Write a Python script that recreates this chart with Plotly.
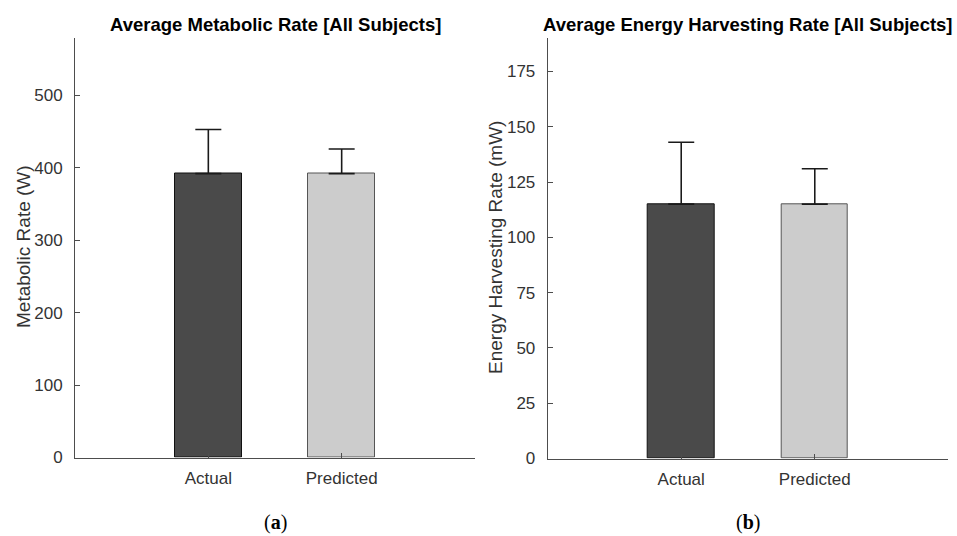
import plotly.graph_objects as go

W, H = 957, 536

categories = ["Actual", "Predicted"]
metabolic_mean = [392, 392]
metabolic_err = [61, 34]
energy_mean = [115, 115]
energy_err = [28, 16]
left_ticks = [0, 100, 200, 300, 400, 500]
right_ticks = [0, 25, 50, 75, 100, 125, 150, 175]

bar_colors = ["#4a4a4a", "#cccccc"]
bar_lines = ["#111111", "#555555"]
axis_color = "#4d4d4d"
FONT = "Arial, Liberation Sans, sans-serif"

fig = go.Figure()

for xa, ya, means, errs in [("x", "y", metabolic_mean, metabolic_err),
                            ("x2", "y2", energy_mean, energy_err)]:
    fig.add_trace(go.Bar(
        x=categories, y=means, xaxis=xa, yaxis=ya, width=0.5,
        marker=dict(color=bar_colors, line=dict(color=bar_lines, width=1)),
        error_y=dict(type="data", array=errs, arrayminus=[0, 0], symmetric=False,
                     color="#1a1a1a", thickness=1.6, width=13),
        showlegend=False, hoverinfo="skip",
    ))

def px_x(p):
    return p / W

def px_y(p):
    return 1 - p / H

common_x = dict(type="category", range=[-1, 2], showline=True, linecolor=axis_color,
                linewidth=1, ticks="inside", ticklen=5, tickcolor=axis_color,
                showgrid=False, zeroline=False, layer="above traces", automargin=False,
                tickfont=dict(family=FONT, size=17, color="#333333"),
                ticklabelstandoff=5, fixedrange=True)
common_y = dict(showline=True, linecolor=axis_color, linewidth=1, ticks="inside",
                ticklen=5, tickcolor=axis_color, showgrid=False, zeroline=False,
                layer="above traces", automargin=False,
                tickfont=dict(family=FONT, size=17, color="#333333"),
                ticklabelstandoff=8, fixedrange=True)

fig.update_layout(
    template="none",
    width=W, height=H,
    margin=dict(l=0, r=0, t=0, b=0, pad=0, autoexpand=False),
    paper_bgcolor="white", plot_bgcolor="white",
    bargap=0,
    xaxis=dict(domain=[px_x(75), px_x(475)], anchor="y", **common_x),
    yaxis=dict(domain=[px_y(457.5), px_y(37.5)], anchor="x", range=[0, 580],
               tickvals=left_ticks, **common_y),
    xaxis2=dict(domain=[px_x(547.7), px_x(948.3)], anchor="y2", **common_x),
    yaxis2=dict(domain=[px_y(458.5), px_y(38.3)], anchor="x2", range=[0, 190],
                tickvals=right_ticks, **common_y),
)

annotations = [
    dict(text="<b>Average Metabolic Rate [All Subjects]</b>", x=px_x(275), y=px_y(24),
         font=dict(family=FONT, size=18.5, color="#000000")),
    dict(text="<b>Average Energy Harvesting Rate [All Subjects]</b>", x=px_x(748), y=px_y(24),
         font=dict(family=FONT, size=18.5, color="#000000")),
    dict(text="Metabolic Rate (W)", x=px_x(24), y=px_y(247), textangle=-90,
         font=dict(family=FONT, size=19, color="#333333")),
    dict(text="Energy Harvesting Rate (mW)", x=px_x(495), y=px_y(248), textangle=-90,
         font=dict(family=FONT, size=19, color="#333333")),
    dict(text="(<b>a</b>)", x=px_x(275), y=px_y(522),
         font=dict(family="Liberation Serif, DejaVu Serif, serif", size=20, color="#000000")),
    dict(text="(<b>b</b>)", x=px_x(748), y=px_y(522),
         font=dict(family="Liberation Serif, DejaVu Serif, serif", size=20, color="#000000")),
]
for a in annotations:
    a.update(xref="paper", yref="paper", xanchor="center", yanchor="middle", showarrow=False)
fig.update_layout(annotations=annotations)

fig.write_html("out.html")
